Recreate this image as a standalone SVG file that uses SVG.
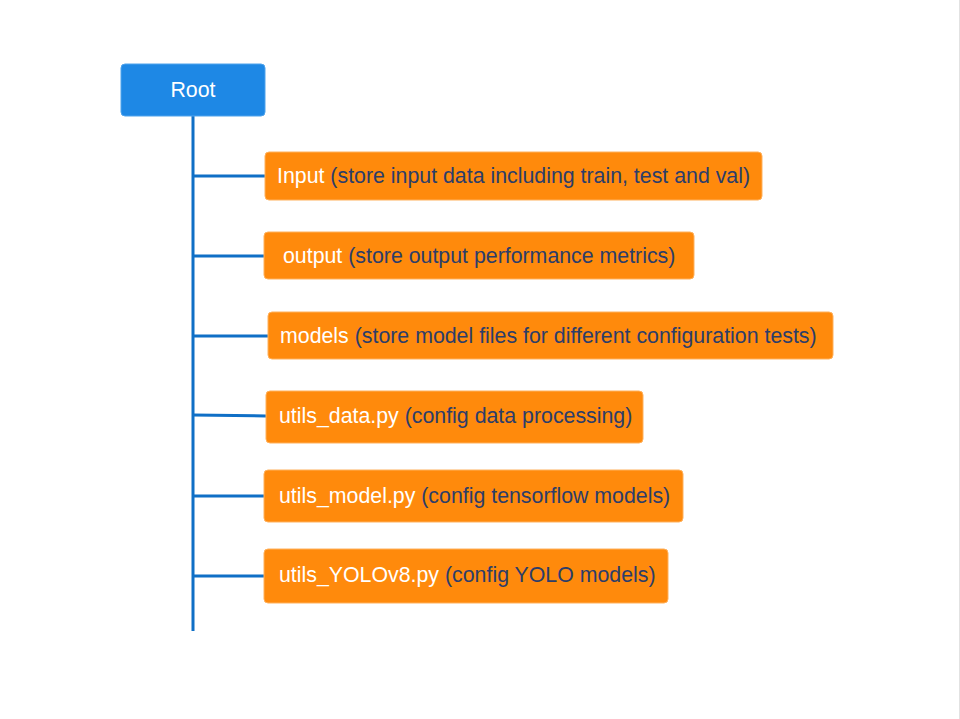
<svg xmlns="http://www.w3.org/2000/svg" width="960" height="719" viewBox="0 0 960 719">
<defs>
<style>
.bg{fill:#ffffff}
.edge{stroke:#0F6FC6;stroke-width:3;fill:none}
.root{fill:#1E88E5;stroke:#4FA3EC;stroke-width:1}
.box{fill:#FF8A0C;stroke:#FFB15C;stroke-width:1}
text{font-family:"Liberation Sans",Arial,sans-serif;font-size:21.33px}
.w{fill:#ffffff}
.d{fill:#2C3D6A}
</style>
</defs>
<rect class="bg" x="0" y="0" width="960" height="719"/>
<line x1="959.5" y1="0" x2="959.5" y2="719" stroke="#E2E2E2" stroke-width="1"/>
<g id="connectors">
<line class="edge" x1="193" y1="116" x2="193" y2="631"/>
<line class="edge" x1="193" y1="176" x2="265" y2="176"/>
<line class="edge" x1="193" y1="256" x2="264" y2="256"/>
<line class="edge" x1="193" y1="336" x2="268" y2="336"/>
<line class="edge" x1="193" y1="415" x2="266" y2="416"/>
<line class="edge" x1="193" y1="496" x2="264" y2="496"/>
<line class="edge" x1="193" y1="576" x2="264" y2="576"/>
</g>
<g id="root">
<rect class="root" x="121" y="64" width="144" height="52" rx="4"/>
<text class="w" x="193" y="97" text-anchor="middle">Root</text>
</g>
<g id="input">
<rect class="box" x="265" y="152" width="497" height="48" rx="4"/>
<text x="277" y="183"><tspan class="w">Input</tspan><tspan class="d"> (store input data including train, test and val)</tspan></text>
</g>
<g id="output">
<rect class="box" x="264" y="232" width="430" height="47" rx="4"/>
<text x="283" y="263"><tspan class="w">output</tspan><tspan class="d"> (store output performance metrics)</tspan></text>
</g>
<g id="models">
<rect class="box" x="268" y="312" width="565" height="47" rx="4"/>
<text x="280" y="343"><tspan class="w">models</tspan><tspan class="d"> (store model files for different configuration tests)</tspan></text>
</g>
<g id="utils_data">
<rect class="box" x="266" y="391" width="377" height="52" rx="4"/>
<text x="279" y="423"><tspan class="w">utils_data.py</tspan><tspan class="d"> (config data processing)</tspan></text>
</g>
<g id="utils_model">
<rect class="box" x="264" y="470" width="419" height="52" rx="4"/>
<text x="279" y="503"><tspan class="w">utils_model.py</tspan><tspan class="d"> (config tensorflow models)</tspan></text>
</g>
<g id="utils_yolo">
<rect class="box" x="264" y="549" width="404" height="54" rx="4"/>
<text x="279" y="582"><tspan class="w">utils_YOLOv8.py</tspan><tspan class="d"> (config YOLO models)</tspan></text>
</g>
</svg>
